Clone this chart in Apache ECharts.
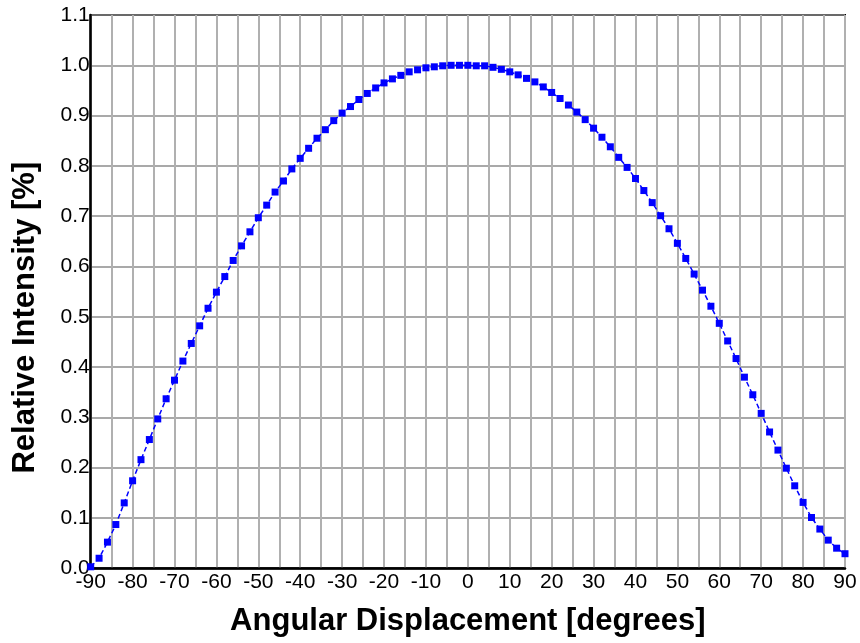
<!DOCTYPE html>
<html>
<head>
<meta charset="utf-8">
<script src="https://cdn.jsdelivr.net/npm/echarts@6/dist/echarts.min.js"></script>
<style>
html,body{margin:0;padding:0;background:#fff;}
#chart{width:860px;height:643px;}
</style>
</head>
<body>
<div id="chart"></div>
<script>
const angles = [-90,-88,-86,-84,-82,-80,-78,-76,-74,-72,-70,-68,-66,-64,-62,-60,-58,-56,-54,-52,-50,-48,-46,-44,-42,-40,-38,-36,-34,-32,-30,-28,-26,-24,-22,-20,-18,-16,-14,-12,-10,-8,-6,-4,-2,0,2,4,6,8,10,12,14,16,18,20,22,24,26,28,30,32,34,36,38,40,42,44,46,48,50,52,54,56,58,60,62,64,66,68,70,72,74,76,78,80,82,84,86,88,90];
const intensity = [0.003,0.020,0.052,0.087,0.130,0.174,0.216,0.256,0.297,0.337,0.374,0.412,0.447,0.482,0.517,0.549,0.580,0.612,0.641,0.669,0.697,0.722,0.748,0.770,0.794,0.815,0.835,0.855,0.872,0.890,0.905,0.918,0.932,0.944,0.955,0.965,0.973,0.980,0.987,0.991,0.995,0.997,0.999,1.000,1.000,1.000,0.999,0.999,0.996,0.992,0.987,0.981,0.974,0.967,0.957,0.946,0.934,0.921,0.907,0.892,0.875,0.857,0.838,0.817,0.797,0.775,0.751,0.727,0.701,0.675,0.646,0.616,0.585,0.553,0.521,0.487,0.452,0.417,0.380,0.345,0.308,0.271,0.235,0.199,0.164,0.131,0.101,0.078,0.056,0.040,0.029];
const xTitle = 'Angular Displacement [degrees]';
const yTitle = 'Relative Intensity [%]';

const points = angles.map((a, i) => [a, intensity[i]]);
const chart = echarts.init(document.getElementById('chart'));
const font = '"Liberation Sans", Arial, Helvetica, sans-serif';
chart.setOption({
  animation: false,
  backgroundColor: '#ffffff',
  grid: {left: 90.7, right: 15, top: 15, bottom: 74.7, show: true, borderColor: '#000', borderWidth: 2, backgroundColor: 'transparent'},
  xAxis: {
    type: 'value', min: -90, max: 90, interval: 5,
    name: xTitle, nameLocation: 'middle', nameGap: 38,
    nameTextStyle: {fontFamily: font, fontSize: 31, fontWeight: 'bold', color: '#000'},
    axisLine: {show: true, onZero: false, lineStyle: {color: '#000', width: 2.5}},
    axisTick: {show: false},
    axisLabel: {fontFamily: font, fontSize: 21, color: '#000', margin: 3,
      formatter: v => (v % 10 === 0 ? String(v) : '')},
    splitLine: {show: true, lineStyle: {color: '#b0b0b0', width: 2}}
  },
  yAxis: {
    type: 'value', min: 0, max: 1.1, interval: 0.1,
    name: yTitle, nameLocation: 'middle', nameGap: 50,
    nameTextStyle: {fontFamily: font, fontSize: 31, fontWeight: 'bold', color: '#000', padding: [0, 52, 0, 0]},
    axisLine: {show: true, onZero: false, lineStyle: {color: '#000', width: 2.5}},
    axisTick: {show: false},
    axisLabel: {fontFamily: font, fontSize: 21, color: '#000', margin: 1,
      formatter: v => v.toFixed(1)},
    splitLine: {show: true, lineStyle: {color: '#8c8c8c', width: 1.5}}
  },
  series: [{
    type: 'line',
    data: points,
    symbol: 'rect',
    symbolSize: 7,
    itemStyle: {color: '#0000ff'},
    lineStyle: {color: '#0000ff', width: 1.5, type: [5, 3]},
    clip: true
  }]
});
</script>
</body>
</html>
